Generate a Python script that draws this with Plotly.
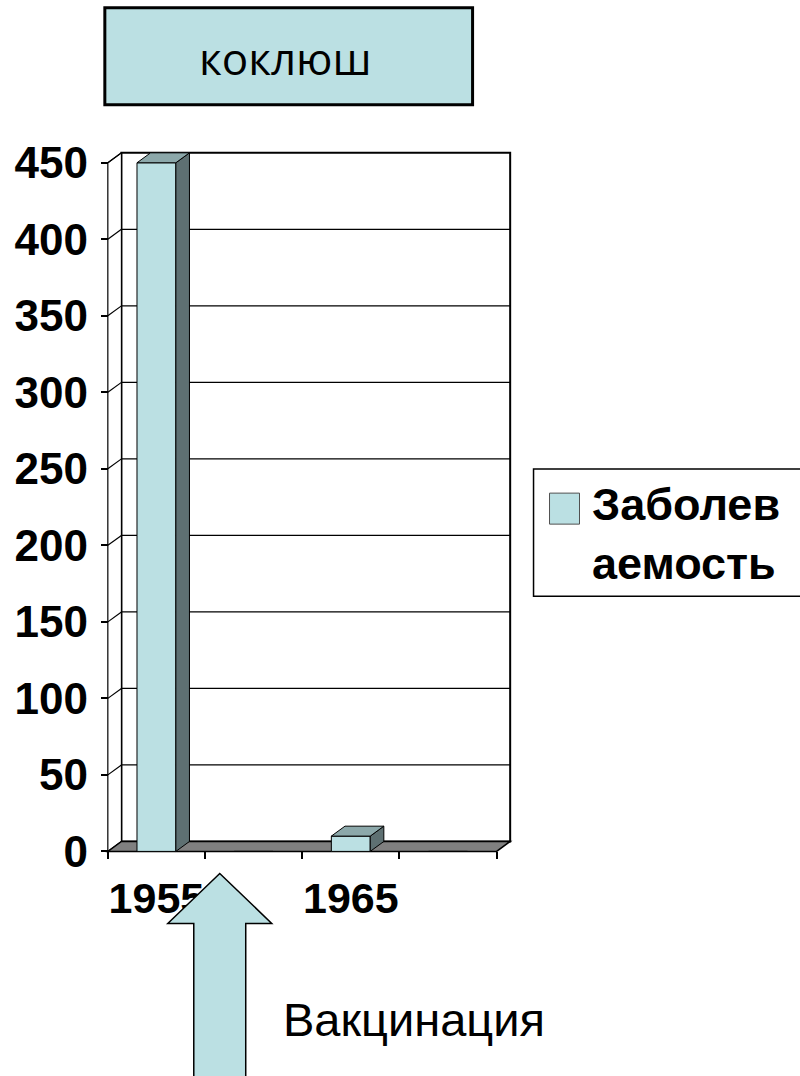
import plotly.graph_objects as go

# ---------------- data ----------------
categories = ["1955", "1960", "1965", "1970"]
values = [450, 0, 10, 0]
x_tick_labels = ["1955", "", "1965", ""]
y_ticks = [0, 50, 100, 150, 200, 250, 300, 350, 400, 450]
series_name = "Заболев<br>аемость"
title_text = "коклюш"
note_text = "Вакцинация"

# ---------------- style ----------------
FRONT = "#BBE0E3"
TOP = "#8CA8AA"
SIDE = "#5E7072"
FLOOR = "#808080"
DX, DY = 0.14, 6.5          # depth offset in data units
YTOP = 450 + DY
BW = 0.4                    # bar width
n = len(categories)
xr = [-0.56, n - 0.5 + DX + 0.06]
yr = [-3, YTOP + 2.5]

W, H = 800, 1076
KX = 97.25                  # px per category
KY = 698 / YTOP             # px per value unit
X0PX = 108                  # pixel of x=-0.5
Y0PX = 851                  # pixel of y=0
L = X0PX - (-0.5 - xr[0]) * KX
R = X0PX + (xr[1] + 0.5) * KX
T = Y0PX - yr[1] * KY
B = Y0PX - yr[0] * KY


def px(x, y):
    return (x - L) / (R - L), (B - y) / (B - T)


fig = go.Figure()

xs = list(range(n))
fig.add_trace(go.Bar(
    x=xs, y=values, width=BW, name=series_name,
    marker=dict(color=FRONT, line=dict(color="black", width=1)),
    showlegend=False,
))

for i, v in zip(xs, values):
    if v <= 0:
        continue
    x0, x1 = i - BW / 2, i + BW / 2
    fig.add_trace(go.Scatter(
        x=[x1, x1 + DX, x1 + DX, x1, x1], y=[0, DY, v + DY, v, 0],
        mode="lines", fill="toself", fillcolor=SIDE,
        line=dict(color="black", width=1), showlegend=False, hoverinfo="skip"))
    fig.add_trace(go.Scatter(
        x=[x0, x1, x1 + DX, x0 + DX, x0], y=[v, v, v + DY, v + DY, v],
        mode="lines", fill="toself", fillcolor=TOP,
        line=dict(color="black", width=1), showlegend=False, hoverinfo="skip"))

shapes = []
xl, xrr = -0.5, n - 0.5
# back wall
shapes.append(dict(type="rect", xref="x", yref="y", x0=xl + DX, x1=xrr + DX, y0=DY, y1=YTOP,
                   fillcolor="white", line=dict(color="black", width=2), layer="below"))
# back wall gridlines
for v in y_ticks[1:-1]:
    shapes.append(dict(type="line", xref="x", yref="y", x0=xl + DX, x1=xrr + DX, y0=v + DY, y1=v + DY,
                       line=dict(color="black", width=1.2), layer="below"))
# left wall
shapes.append(dict(type="path", xref="x", yref="y",
                   path=f"M{xl},0 L{xl + DX},{DY} L{xl + DX},{YTOP} L{xl},{450} Z",
                   fillcolor="white", line=dict(color="black", width=1.2), layer="below"))
for v in y_ticks[1:]:
    shapes.append(dict(type="line", xref="x", yref="y", x0=xl, x1=xl + DX, y0=v, y1=v + DY,
                       line=dict(color="black", width=1.2), layer="below"))
# floor
shapes.append(dict(type="path", xref="x", yref="y",
                   path=f"M{xl},0 L{xrr},0 L{xrr + DX},{DY} L{xl + DX},{DY} Z",
                   fillcolor=FLOOR, line=dict(color="black", width=1.5), layer="below"))

# title box
bx0, by0 = px(105, 105)
bx1, by1 = px(473, 8)
shapes.append(dict(type="rect", xref="paper", yref="paper", x0=bx0, y0=by0, x1=bx1, y1=by1,
                   fillcolor=FRONT, line=dict(color="black", width=3), layer="above"))

# legend box
lx0, ly0 = px(534, 596)
lx1, ly1 = px(815, 469)
shapes.append(dict(type="rect", xref="paper", yref="paper", x0=lx0, y0=ly0, x1=lx1, y1=ly1,
                   fillcolor="white", line=dict(color="black", width=1.5), layer="above"))
sx0, sy0 = px(550, 524)
sx1, sy1 = px(580, 493)
shapes.append(dict(type="rect", xref="paper", yref="paper", x0=sx0, y0=sy0, x1=sx1, y1=sy1,
                   fillcolor=FRONT, line=dict(color="#505050", width=1), layer="above"))

# arrow
pts = [(220, 873), (272, 923), (246, 923), (246, 1085), (194, 1085), (194, 923), (168, 923)]
path = "M" + " L".join(f"{px(a, b)[0]:.5f},{px(a, b)[1]:.5f}" for a, b in pts) + " Z"
shapes.append(dict(type="path", xref="paper", yref="paper", path=path,
                   fillcolor=FRONT, line=dict(color="black", width=1.5), layer="above"))

annotations = []
tx, ty = px(286, 58)
annotations.append(dict(xref="paper", yref="paper", x=tx, y=ty, text=title_text, showarrow=False,
                        font=dict(family="Open Sans", size=44, color="black"),
                        xanchor="center", yanchor="middle"))
ax_, ay_ = px(591, 534)
annotations.append(dict(xref="paper", yref="paper", x=ax_, y=ay_, text=series_name, showarrow=False,
                        font=dict(family="Liberation Sans", size=45, color="black", weight="bold"),
                        xanchor="left", yanchor="middle", align="left"))
nx, ny = px(414, 1019)
annotations.append(dict(xref="paper", yref="paper", x=nx, y=ny, text=note_text, showarrow=False,
                        font=dict(family="Liberation Sans", size=47, color="black"),
                        xanchor="center", yanchor="middle"))

fig.update_layout(
    width=W, height=H, autosize=False,
    margin=dict(l=L, r=W - R, t=T, b=H - B, pad=0),
    paper_bgcolor="white", plot_bgcolor="rgba(0,0,0,0)",
    shapes=shapes, annotations=annotations, showlegend=False,
    xaxis=dict(range=xr, tickvals=xs, ticktext=x_tick_labels, showgrid=False, zeroline=False,
               showline=False, ticks="outside", ticklen=7, tickcolor="rgba(0,0,0,0)",
               ticklabelstandoff=2,
               minor=dict(tick0=-0.5, dtick=1, ticks="outside", ticklen=7, tickcolor="black",
                          tickwidth=1.5, showgrid=False),
               tickfont=dict(family="Liberation Sans", size=43, color="black", weight="bold"),
               anchor="free", position=(0 - yr[0]) / (yr[1] - yr[0])),
    yaxis=dict(range=yr, tickvals=y_ticks, showgrid=False, zeroline=False, showline=False,
               ticks="outside", ticklen=7, tickcolor="black", tickwidth=1.5,
               ticklabelstandoff=4,
               tickfont=dict(family="Liberation Sans", size=44, color="black", weight="bold"),
               anchor="free", position=(-0.5 - xr[0]) / (xr[1] - xr[0])),
)

fig.write_html("out.html", config={"displayModeBar": False},
               post_script="document.body.style.margin='0';document.body.style.overflow='hidden';")
